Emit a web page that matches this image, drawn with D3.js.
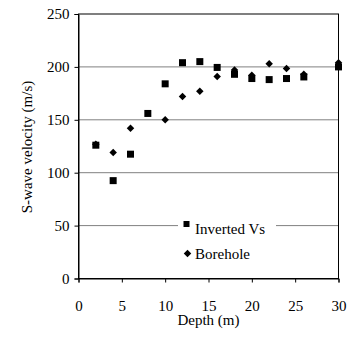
<!DOCTYPE html>
<html><head><meta charset="utf-8">
<script src="https://cdn.jsdelivr.net/npm/d3@7/dist/d3.min.js"></script>
<style>body{margin:0;background:#fff}svg{display:block}text{font-family:"Liberation Serif",Tinos,"Times New Roman",Times,serif;font-size:15px;fill:#000}</style>
</head><body>
<svg id="c" width="351" height="352"></svg>
<script>
const invDepth = [2,4,6,8,10,12,14,16,18,20,22,24,26,30];
const invVs    = [126,92.5,117.5,156,184,204,205,199.5,193,189,188,189,190.5,200];
const boreDepth = [2,4,6,10,12,14,16,18,20,22,24,26,30];
const boreVs    = [127,119,142,150,172,177,191,197,192,203,198.5,193,204];
const xTicks = [0,5,10,15,20,25,30];
const yTicks = [0,50,100,150,200,250];
const seriesNames = ["Inverted Vs","Borehole"];
const FONT = '"Liberation Serif",Tinos,"Times New Roman",Times,serif';

const svg = d3.select("#c");
const x = d3.scaleLinear().domain([0,30]).range([78.5,338.5]);
const y = d3.scaleLinear().domain([0,250]).range([278.5,14]);

svg.append("g").selectAll("line").data(yTicks.filter(d=>d>0&&d<250)).join("line")
  .attr("x1",x(0)).attr("x2",x(30)).attr("y1",d=>y(d)).attr("y2",d=>y(d))
  .attr("stroke","#808080").attr("stroke-width",1);

svg.append("rect").attr("x",x(0)).attr("y",y(250)).attr("width",x(30)-x(0)).attr("height",y(0)-y(250))
  .attr("fill","none").attr("stroke","#000").attr("stroke-width",1);

const xa = svg.append("g").attr("transform",`translate(0,${y(0)})`)
  .call(d3.axisBottom(x).tickValues(xTicks).tickSize(4).tickPadding(18).tickFormat(d3.format("d")));
const ya = svg.append("g").attr("transform",`translate(${x(0)},0)`)
  .call(d3.axisLeft(y).tickValues(yTicks).tickSize(4).tickPadding(5).tickFormat(d3.format("d")));
[xa,ya].forEach(g=>{g.attr("font-family",FONT).attr("font-size",15);
  g.select(".domain").attr("stroke","#000");g.selectAll(".tick line").attr("stroke","#000");
  g.selectAll("text").attr("fill","#000");});

const diamond = {draw(ctx,size){const r=Math.sqrt(size/2);ctx.moveTo(0,-r);ctx.lineTo(r,0);ctx.lineTo(0,r);ctx.lineTo(-r,0);ctx.closePath();}};
const sq = d3.symbol(d3.symbolSquare,49);
const dm = d3.symbol(diamond,28);

svg.append("rect").attr("x",178).attr("y",214).attr("width",98).attr("height",50).attr("fill","#fff");

svg.append("g").selectAll("path").data(invDepth.map((d,i)=>[d,invVs[i]])).join("path")
  .attr("d",sq).attr("transform",d=>`translate(${x(d[0])},${y(d[1])})`).attr("fill","#000");
svg.append("g").selectAll("path").data(boreDepth.map((d,i)=>[d,boreVs[i]])).join("path")
  .attr("d",dm).attr("transform",d=>`translate(${x(d[0])},${y(d[1])})`).attr("fill","#000");

const lg = svg.append("g");
lg.append("path").attr("d",d3.symbol(d3.symbolSquare,36)).attr("transform","translate(186.5,224)").attr("fill","#000");
lg.append("text").attr("x",195).attr("y",233.5).text(seriesNames[0]);
lg.append("path").attr("d",dm).attr("transform","translate(187.5,253.5)").attr("fill","#000");
lg.append("text").attr("x",195).attr("y",259).text(seriesNames[1]);

svg.append("text").attr("x",x(15)).attr("y",325).attr("text-anchor","middle").text("Depth (m)");
svg.append("text").attr("transform","translate(32,147) rotate(-90)").attr("text-anchor","middle").text("S-wave velocity (m/s)");
</script>
</body></html>
